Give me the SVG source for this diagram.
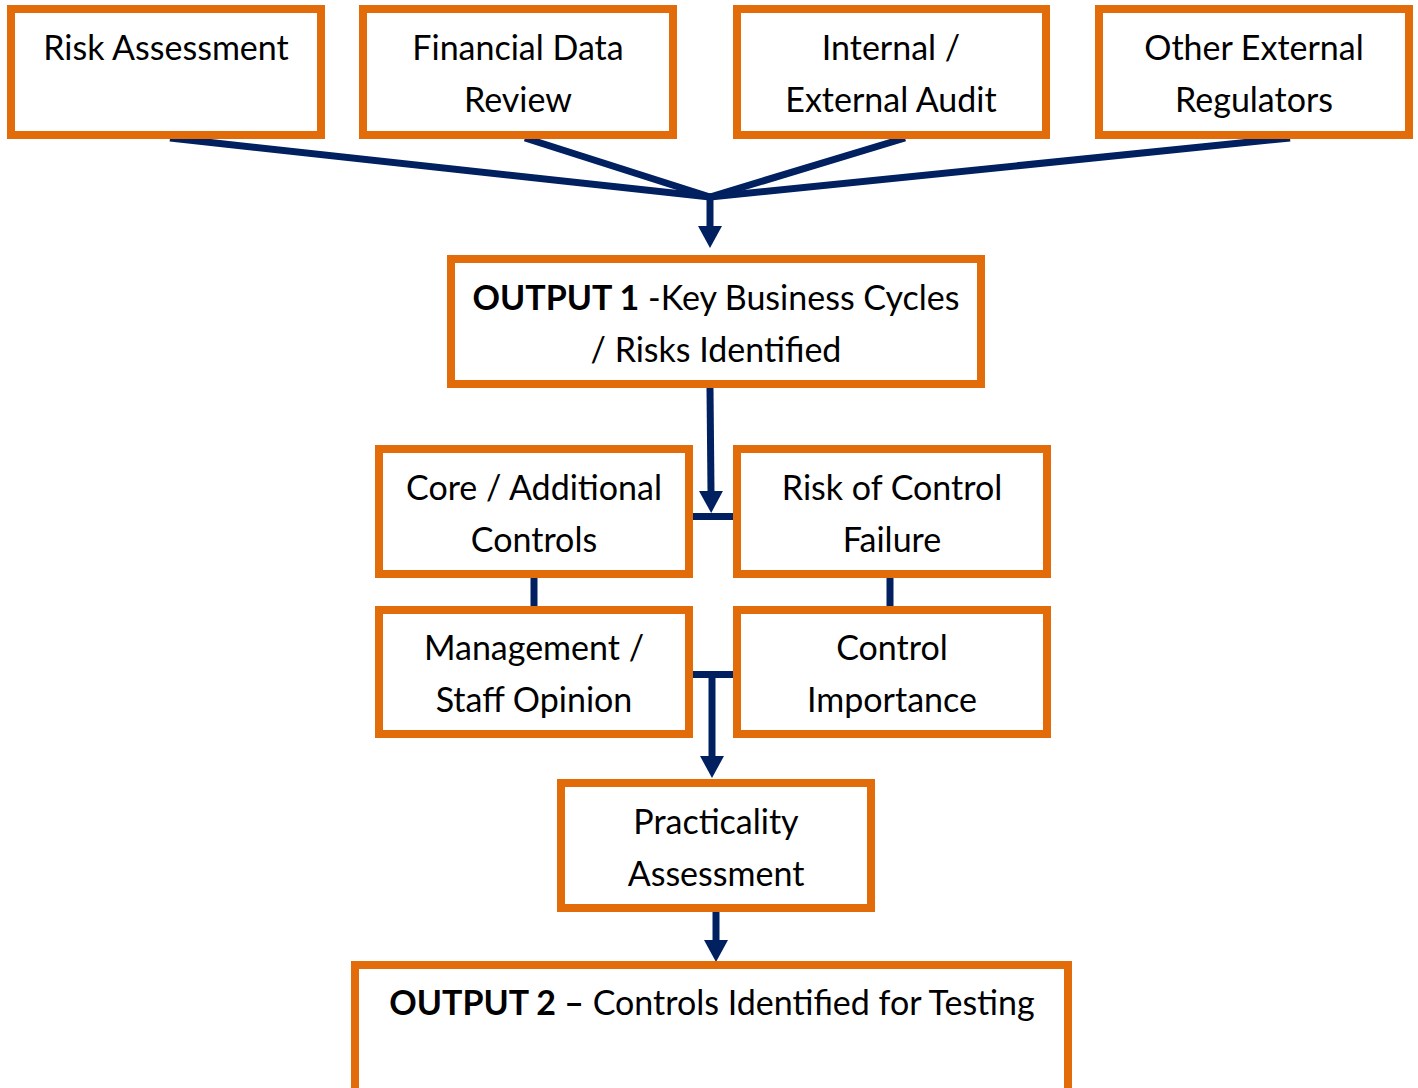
<svg xmlns="http://www.w3.org/2000/svg" width="1418" height="1088" viewBox="0 0 1418 1088">
  <style>
    .box { fill: #ffffff; stroke: #E36C0A; stroke-width: 8; }
    .lbl { font-family: Lato, "Liberation Sans", sans-serif; font-size: 34px; fill: #000000; text-anchor: middle; }
    .b { font-weight: bold; }
    .link { stroke: #002060; stroke-width: 7; fill: none; stroke-linecap: butt; }
  </style>
  <defs>
    <marker id="arrow" markerUnits="userSpaceOnUse" markerWidth="24" markerHeight="26" viewBox="0 -13 24 26" refX="1" refY="0" orient="auto">
      <path d="M0,-12 L22,0 L0,12 z" fill="#002060"/>
    </marker>
  </defs>

  <rect width="1418" height="1088" fill="#ffffff"/>

  <!-- connectors -->
  <g id="connectors">
    <line class="link" x1="170" y1="138" x2="710" y2="197"/>
    <line class="link" x1="525" y1="138" x2="710" y2="197"/>
    <line class="link" x1="905" y1="138" x2="710" y2="197"/>
    <line class="link" x1="1290" y1="138" x2="710" y2="197"/>
    <line class="link" x1="710" y1="196" x2="710" y2="227" marker-end="url(#arrow)"/>

    <line class="link" x1="710" y1="388" x2="711" y2="492" marker-end="url(#arrow)"/>
    <line class="link" x1="693" y1="516.5" x2="733" y2="516.5"/>

    <line class="link" x1="534" y1="578" x2="534" y2="606"/>
    <line class="link" x1="890" y1="578" x2="890" y2="606"/>

    <line class="link" x1="693" y1="674.5" x2="733" y2="674.5"/>
    <line class="link" x1="712" y1="674" x2="712" y2="757" marker-end="url(#arrow)"/>

    <line class="link" x1="716" y1="912" x2="716" y2="941" marker-end="url(#arrow)"/>
  </g>

  <g id="risk-assessment">
    <rect class="box" x="11" y="9" width="310" height="126"/>
    <text class="lbl" x="166" y="60">Risk Assessment</text>
  </g>
  <g id="financial-data-review">
    <rect class="box" x="363" y="9" width="310" height="126"/>
    <text class="lbl" x="518" y="60">Financial Data</text>
    <text class="lbl" x="518" y="112">Review</text>
  </g>
  <g id="internal-external-audit">
    <rect class="box" x="737" y="9" width="309" height="126"/>
    <text class="lbl" x="891" y="60">Internal /</text>
    <text class="lbl" x="891" y="112">External Audit</text>
  </g>
  <g id="other-external-regulators">
    <rect class="box" x="1099" y="9" width="310" height="126"/>
    <text class="lbl" x="1254" y="60">Other External</text>
    <text class="lbl" x="1254" y="112">Regulators</text>
  </g>

  <g id="output-1">
    <rect class="box" x="451" y="259" width="530" height="125"/>
    <text class="lbl" x="716" y="310"><tspan class="b">OUTPUT 1</tspan> -Key Business Cycles</text>
    <text class="lbl" x="716" y="362">/ Risks Identified</text>
  </g>

  <g id="core-additional-controls">
    <rect class="box" x="379" y="449" width="310" height="125"/>
    <text class="lbl" x="534" y="500">Core / Additional</text>
    <text class="lbl" x="534" y="552">Controls</text>
  </g>
  <g id="risk-of-control-failure">
    <rect class="box" x="737" y="449" width="310" height="125"/>
    <text class="lbl" x="892" y="500">Risk of Control</text>
    <text class="lbl" x="892" y="552">Failure</text>
  </g>
  <g id="management-staff-opinion">
    <rect class="box" x="379" y="610" width="310" height="124"/>
    <text class="lbl" x="534" y="660">Management /</text>
    <text class="lbl" x="534" y="712">Staff Opinion</text>
  </g>
  <g id="control-importance">
    <rect class="box" x="737" y="610" width="310" height="124"/>
    <text class="lbl" x="892" y="660">Control</text>
    <text class="lbl" x="892" y="712">Importance</text>
  </g>

  <g id="practicality-assessment">
    <rect class="box" x="561" y="783" width="310" height="125"/>
    <text class="lbl" x="716" y="834">Practicality</text>
    <text class="lbl" x="716" y="886">Assessment</text>
  </g>

  <g id="output-2">
    <rect class="box" x="355" y="965" width="713" height="200"/>
    <text class="lbl" x="712" y="1015"><tspan class="b">OUTPUT 2 –</tspan> Controls Identified for Testing</text>
  </g>
</svg>
